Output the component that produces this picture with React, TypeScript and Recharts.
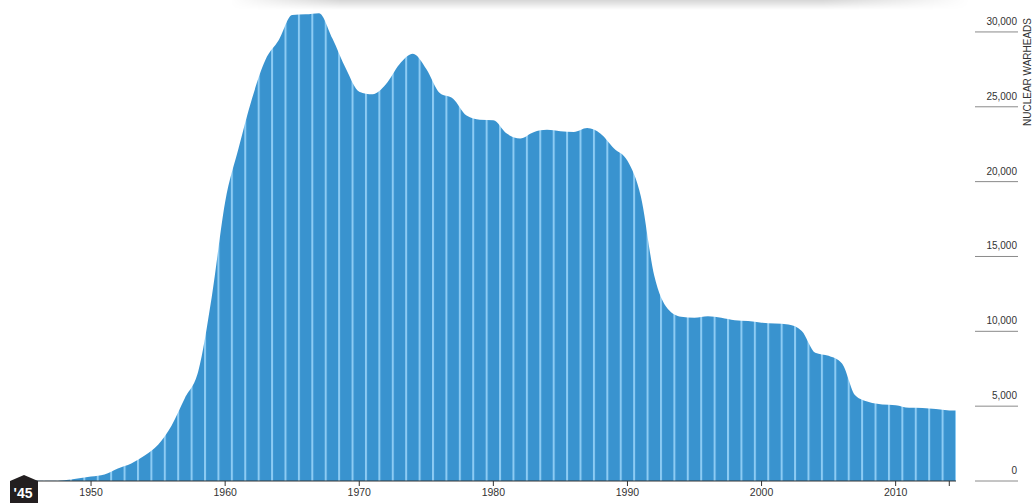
import { AreaChart, Area, XAxis, YAxis } from 'recharts';

// US nuclear warhead stockpile, by year
const years = [
  1945, 1946, 1947, 1948, 1949, 1950, 1951, 1952, 1953, 1954,
  1955, 1956, 1957, 1958, 1959, 1960, 1961, 1962, 1963, 1964,
  1965, 1966, 1967, 1968, 1969, 1970, 1971, 1972, 1973, 1974,
  1975, 1976, 1977, 1978, 1979, 1980, 1981, 1982, 1983, 1984,
  1985, 1986, 1987, 1988, 1989, 1990, 1991, 1992, 1993, 1994,
  1995, 1996, 1997, 1998, 1999, 2000, 2001, 2002, 2003, 2004,
  2005, 2006, 2007, 2008, 2009, 2010, 2011, 2012, 2013, 2014, 2015,
];
const warheads = [
  2, 9, 13, 50, 170, 299, 438, 841, 1169, 1703,
  2422, 3692, 5543, 7345, 12298, 18638, 22229, 25540, 28133, 29463,
  31139, 31175, 31255, 29561, 27552, 26008, 25830, 26516, 27835, 28537,
  27519, 25914, 25542, 24418, 24138, 24104, 23208, 22886, 23305, 23459,
  23368, 23317, 23575, 23205, 22217, 21392, 19008, 13708, 11511, 10979,
  10904, 11011, 10903, 10732, 10685, 10577, 10526, 10457, 10027, 8570,
  8360, 7853, 5709, 5273, 5113, 5066, 4897, 4881, 4804, 4717, 4700,
];
const decadeTicks = [1945, 1950, 1960, 1970, 1980, 1990, 2000, 2010, 2014];
const valueTicks = [0, 5000, 10000, 15000, 20000, 25000, 30000];

const data = years.map((year, i) => ({ year, warheads: warheads[i] }));

const W = 1033;
const H = 503;
const LEFT = 24;
const AXIS_W = 77;
const X_MIN = 1945;
const X_MAX = 2014.5;
const yearPx = (W - LEFT - AXIS_W) / (X_MAX - X_MIN);
const FONT = 'Liberation Sans, Arial, sans-serif';

const XTick = (props: any) => {
  const { x, y, payload } = props;
  const v = payload.value;
  if (v === 1945) {
    return (
      <g>
        <polygon
          points={`${x - 14},${y} ${x},${y - 6} ${x + 14},${y} ${x + 14},${y + 23} ${x - 14},${y + 23}`}
          fill="#231f20"
        />
        <text x={x - 1} y={y + 17} textAnchor="middle" fill="#fff" fontSize={14} fontWeight="bold"
          fontFamily={FONT}>
          '45
        </text>
      </g>
    );
  }
  return (
    <g>
      <line x1={x} y1={y} x2={x} y2={y + 5} stroke="#333" />
      {v !== 2014 && (
        <text x={x} y={y + 15} textAnchor="middle" fill="#333" fontSize={10.5} fontFamily={FONT}>
          {v}
        </text>
      )}
    </g>
  );
};

const YTick = (props: any) => {
  const { y, payload } = props;
  return (
    <g>
      <text x={1017} y={y - 7} textAnchor="end" fill="#333" fontSize={10} fontFamily={FONT}>
        {payload.value.toLocaleString('en-US')}
      </text>
      <line x1={975} y1={y} x2={1018} y2={y} stroke="#8a8a8a" />
    </g>
  );
};

const App = () => {
  return (
    <div style={{ position: 'absolute', left: 0, top: 0, width: W, height: H, background: '#fff' }}>
      <div
        style={{
          position: 'absolute', left: 230, top: 0, width: 740, height: 10,
          background: 'linear-gradient(to bottom, rgba(0,0,0,0.16), rgba(0,0,0,0))',
          WebkitMaskImage: 'linear-gradient(to right, transparent, black 15%, black 80%, transparent)',
          maskImage: 'linear-gradient(to right, transparent, black 15%, black 80%, transparent)',
        }}
      />
      <AreaChart width={W} height={H} data={data} margin={{ top: 2, right: 0, left: LEFT, bottom: 0 }}>
        <defs>
          <pattern id="yearStripes" patternUnits="userSpaceOnUse"
            x={LEFT + yearPx / 2 - 1} y={0} width={yearPx} height={H}>
            <rect x={0} y={0} width={yearPx} height={H} fill="#3993cf" />
            <rect x={0} y={0} width={2} height={H} fill="#8ccbf3" />
          </pattern>
        </defs>
        <XAxis
          dataKey="year"
          type="number"
          domain={[X_MIN, X_MAX]}
          allowDataOverflow
          ticks={decadeTicks}
          tick={<XTick />}
          tickLine={false}
          tickSize={0}
          tickMargin={0}
          axisLine={{ stroke: '#333' }}
          height={22}
          interval={0}
        />
        <YAxis
          orientation="right"
          domain={[0, 32000]}
          ticks={valueTicks}
          tick={<YTick />}
          tickLine={false}
          tickSize={0}
          tickMargin={0}
          axisLine={false}
          width={AXIS_W}
          interval={0}
        />
        <Area
          type="monotone"
          dataKey="warheads"
          stroke="none"
          fill="url(#yearStripes)"
          fillOpacity={1}
          isAnimationActive={false}
          dot={false}
          activeDot={false}
        />
      </AreaChart>
      <svg style={{ position: 'absolute', left: 0, top: 0 }} width={W} height={H} pointerEvents="none">
        <text
          transform="translate(1031, 72) rotate(-90)"
          textAnchor="middle"
          fill="#333"
          fontSize={10}
          fontFamily={FONT}
        >
          NUCLEAR WARHEADS
        </text>
      </svg>
    </div>
  );
};

export default App;
